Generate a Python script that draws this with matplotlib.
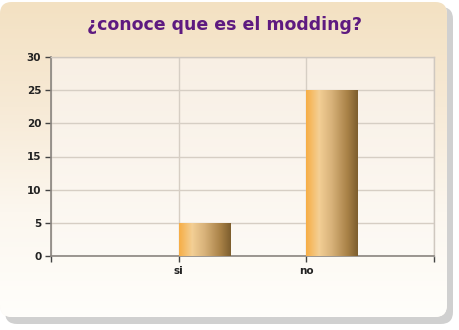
import matplotlib
matplotlib.use("Agg")
import matplotlib.pyplot as plt
import numpy as np
from matplotlib.colors import LinearSegmentedColormap
from matplotlib.patches import FancyBboxPatch

# data
categories = ["si", "no"]
values = [5, 25]
title = "¿conoce que es el modding?"

W, H = 459, 330
fig = plt.figure(figsize=(W / 100, H / 100), dpi=100)

# card background with shadow
bg = fig.add_axes([0, 0, 1, 1])
bg.set_xlim(0, W)
bg.set_ylim(H, 0)
bg.axis("off")
shadow = FancyBboxPatch((5, 7), 448, 317, boxstyle="round,pad=0,rounding_size=12",
                        fc="#bdbdbd", ec="none", alpha=0.7, zorder=0)
bg.add_patch(shadow)
card = FancyBboxPatch((0, 2), 447, 315, boxstyle="round,pad=0,rounding_size=12",
                      fc="#fdf8f0", ec="none", zorder=1)
bg.add_patch(card)
card_cmap = LinearSegmentedColormap.from_list("card", ["#f3e1c2", "#f7ead6", "#fcf7ef", "#fffefb"])
grad = np.linspace(0, 1, 256).reshape(-1, 1)
im = bg.imshow(grad, cmap=card_cmap, extent=(0, 447, 317, 2), aspect="auto", zorder=2)
im.set_clip_path(card)
bg.set_xlim(0, W)
bg.set_ylim(H, 0)

fig.text(0.49, 0.925, title, ha="center", va="center", color="#5e1a80",
         fontsize=12.5, fontweight="bold", family="DejaVu Sans")

# plot area
ax = fig.add_axes([51 / W, 1 - 256 / H, (434 - 51) / W, (256 - 57) / H])
ax.patch.set_alpha(0)
pa = np.linspace(0, 1, 256).reshape(-1, 1)
ax.imshow(pa, cmap=LinearSegmentedColormap.from_list("pa", ["#f8efe4", "#fdfaf5"]),
          extent=(0, 3, 0, 30), aspect="auto", zorder=0)

x = np.arange(1, len(categories) + 1)
bars = ax.bar(x, values, width=0.4, align="edge", color="none", zorder=3)
bar_cmap = LinearSegmentedColormap.from_list(
    "bar", [(0, "#f7ae45"), (0.25, "#f3cf95"), (0.5, "#d7b179"), (0.8, "#a98247"), (1, "#7d5e2e")])
hg = np.linspace(0, 1, 128).reshape(1, -1)
for b in bars:
    bi = ax.imshow(hg, cmap=bar_cmap, aspect="auto", zorder=3,
                   extent=(b.get_x(), b.get_x() + b.get_width(), 0, b.get_height()))
    bi.set_clip_path(b)

ax.set_xlim(0, 3)
ax.set_ylim(0, 30)
ax.set_xticks([0, 1, 2, 3])
ax.set_xticklabels([""] + categories + [""])
ax.set_yticks(range(0, 31, 5))
ax.grid(True, color="#d6cec4", linewidth=1, zorder=1)
ax.set_axisbelow(True)
ax.tick_params(axis="both", length=4, width=1, color="#444444", labelsize=7.5,
               labelcolor="#222222", pad=3)
for lbl in ax.get_xticklabels() + ax.get_yticklabels():
    lbl.set_fontweight("bold")
for side in ["left", "bottom"]:
    ax.spines[side].set_color("#8a8580")
    ax.spines[side].set_linewidth(1.2)
for side in ["top", "right"]:
    ax.spines[side].set_color("#cfc8c0")
    ax.spines[side].set_linewidth(1)

fig.savefig("out.png", dpi=100)
